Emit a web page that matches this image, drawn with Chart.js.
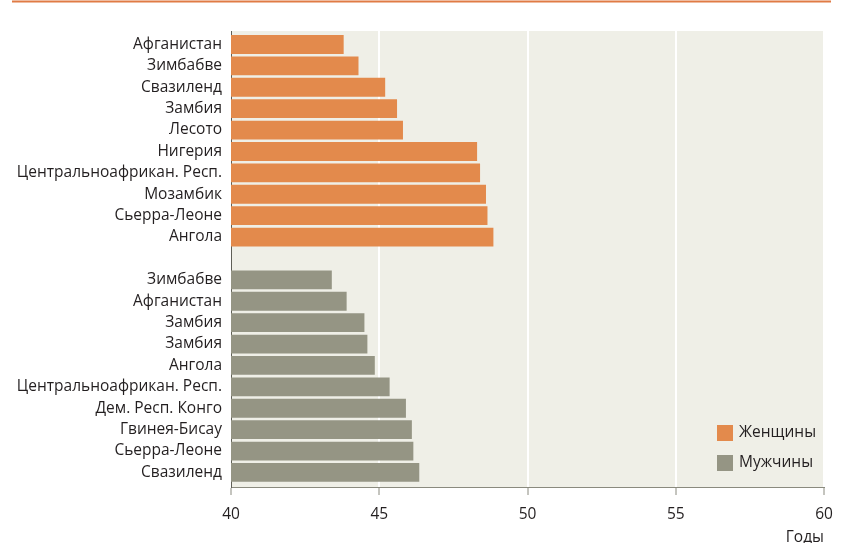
<!DOCTYPE html>
<html>
<head>
<meta charset="utf-8">
<title>Ожидаемая продолжительность жизни</title>
<script src="https://cdn.jsdelivr.net/npm/chart.js@4/dist/chart.umd.min.js"></script>
<style>
    body { margin: 0; background: #fff; }
    #chart { display: block; }
</style>
</head>
<body>
<canvas id="chart" width="845" height="543"></canvas>
<script>
    // данные
    const femaleCountries = ['Афганистан', 'Зимбабве', 'Свазиленд', 'Замбия', 'Лесото',
        'Нигерия', 'Центральноафрикан. Респ.', 'Мозамбик', 'Сьерра-Леоне', 'Ангола'];
    const femaleValues = [43.8, 44.3, 45.2, 45.6, 45.8, 48.3, 48.4, 48.6, 48.65, 48.85];

    const maleCountries = ['Зимбабве', 'Афганистан', 'Замбия', 'Замбия', 'Ангола',
        'Центральноафрикан. Респ.', 'Дем. Респ. Конго', 'Гвинея-Бисау', 'Сьерра-Леоне', 'Свазиленд'];
    const maleValues = [43.4, 43.9, 44.5, 44.6, 44.85, 45.35, 45.9, 46.1, 46.15, 46.35];

    const xTicks = [40, 45, 50, 55, 60];
    const seriesNames = ['Женщины', 'Мужчины'];
    const axisTitle = 'Годы';

    const rowLabels = [...femaleCountries, '', ...maleCountries];
    const maleOffset = femaleCountries.length + 1;

    const FONT = "'Open Sans', 'Noto Sans', sans-serif";
    const TEXT = '#231f20';
    const ORANGE = '#e38a4c';
    const GREY = '#959584';

    const femaleData = femaleValues.map((v, i) => ({x: v, y: i}));
    const maleData = maleValues.map((v, i) => ({x: v, y: i + maleOffset}));

    const backgroundPlugin = {
        id: 'background',
        beforeDraw(chart) {
            const {ctx, chartArea: a} = chart;
            ctx.save();
            ctx.fillStyle = '#efefe7';
            ctx.fillRect(a.left, a.top, a.right - a.left, a.bottom - a.top);
            // оранжевая линия сверху
            ctx.strokeStyle = '#e07b45';
            ctx.lineWidth = 2;
            ctx.beginPath();
            ctx.moveTo(12, 1.5);
            ctx.lineTo(831, 1.5);
            ctx.stroke();
            ctx.restore();
        }
    };

    const legendPlugin = {
        id: 'insideLegend',
        afterDraw(chart) {
            const {ctx, chartArea: a} = chart;
            ctx.save();
            ctx.font = '15.5px ' + FONT;
            ctx.textBaseline = 'middle';
            chart.data.datasets.forEach((ds, i) => {
                const x = a.right - 107;
                const y = a.bottom - 62 + i * 30;
                ctx.fillStyle = ds.backgroundColor;
                ctx.fillRect(x, y, 16, 16);
                ctx.fillStyle = TEXT;
                ctx.fillText(ds.label, x + 22, y + 8);
            });
            ctx.restore();
        }
    };

    new Chart(document.getElementById('chart'), {
        type: 'bar',
        data: {
            datasets: [
                {label: seriesNames[0], data: femaleData, backgroundColor: ORANGE},
                {label: seriesNames[1], data: maleData, backgroundColor: GREY}
            ]
        },
        options: {
            indexAxis: 'y',
            responsive: false,
            animation: false,
            grouped: false,
            categoryPercentage: 1,
            barPercentage: 0.88,
            borderWidth: 0,
            layout: {padding: {top: 31, right: 21, left: 0, bottom: 0}},
            plugins: {
                legend: {display: false},
                tooltip: {enabled: false}
            },
            scales: {
                x: {
                    type: 'linear',
                    min: 40,
                    max: 60,
                    afterBuildTicks: (scale) => { scale.ticks = xTicks.map(v => ({value: v})); },
                    afterFit: (scale) => { scale.height = 56; },
                    grid: {
                        color: '#ffffff',
                        lineWidth: 2,
                        tickColor: '#8a8a7e',
                        tickWidth: 1,
                        tickLength: 8
                    },
                    border: {display: true, color: '#8a8a7e', width: 1},
                    ticks: {
                        font: {family: FONT, size: 15.5},
                        color: TEXT,
                        padding: 10,
                        maxRotation: 0
                    },
                    title: {
                        display: true,
                        text: axisTitle,
                        align: 'end',
                        font: {family: FONT, size: 15.5},
                        color: TEXT,
                        padding: {top: -4, bottom: -4}
                    }
                },
                y: {
                    type: 'linear',
                    reverse: true,
                    offset: false,
                    min: -0.63,
                    max: 20.68,
                    afterBuildTicks: (scale) => { scale.ticks = rowLabels.map((l, i) => ({value: i})); },
                    afterFit: (scale) => { scale.width = 231; },
                    grid: {display: false, drawTicks: false, offset: false},
                    border: {display: true, color: '#5f5f57', width: 1},
                    ticks: {
                        font: {family: FONT, size: 15.5},
                        color: TEXT,
                        padding: 9,
                        autoSkip: false,
                        callback: (v) => rowLabels[v]
                    }
                }
            }
        },
        plugins: [backgroundPlugin, legendPlugin]
    });
</script>
</body>
</html>
